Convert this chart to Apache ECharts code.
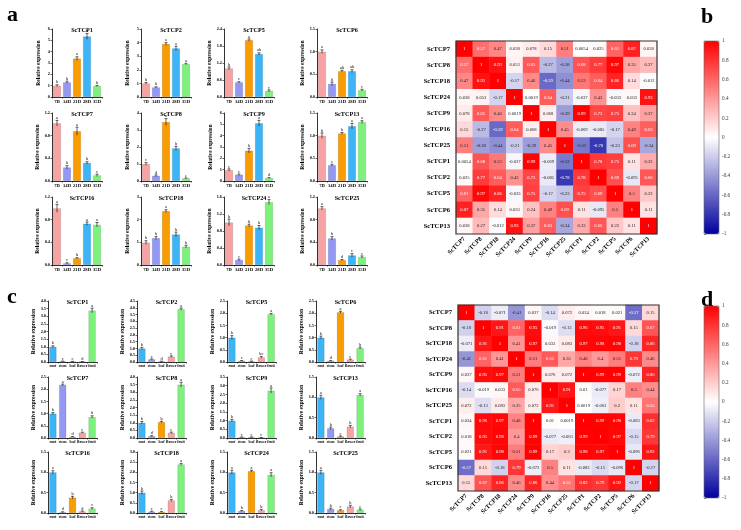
<!DOCTYPE html>
<html lang="en">
<head>
<meta charset="UTF-8">
<title>ScTCP expression</title>
<script src="https://cdn.jsdelivr.net/npm/echarts@6/dist/echarts.min.js"></script>
<style>body{margin:0;background:#fff;}</style>
</head>
<body>
<div id="main" style="width:741px;height:530px;"></div>
<script>
// ---- data ----
var genes = ['ScTCP1','ScTCP2','ScTCP5','ScTCP6','ScTCP7','ScTCP8','ScTCP9','ScTCP13','ScTCP16','ScTCP18','ScTCP24','ScTCP25'];
var timeCats = ['7D','14D','21D','28D','35D'];
var tissueCats = ['root','stem','leaf','flower','fruit'];

// panel a: expression over time
var aMax  = [6, 5, 2.4, 1.5, 1.2, 4, 6, 1.5, 1.2, 3, 1.6, 1.2];
var aStep = [1, 1, 0.6, 0.5, 0.4, 1, 1, 0.5, 0.4, 1, 0.4, 0.4];
var aValues = [
  [1.0, 1.3, 3.4, 5.35, 0.97],
  [1.0, 0.71, 3.9, 3.58, 2.43],
  [1.01, 0.52, 2.01, 1.52, 0.22],
  [1.0, 0.29, 0.57, 0.57, 0.15],
  [1.02, 0.24, 0.88, 0.32, 0.1],
  [1.0, 0.31, 3.47, 1.92, 0.16],
  [0.97, 0.56, 2.68, 5.1, 0.27],
  [1.0, 0.35, 1.05, 1.21, 1.3],
  [1.0, 0.03, 0.12, 0.73, 0.71],
  [0.99, 1.19, 2.38, 1.35, 0.81],
  [1.0, 0.12, 0.93, 0.88, 1.48],
  [1.0, 0.47, 0.087, 0.17, 0.14]
];
var aErrors = [
  [0.08, 0.1, 0.15, 0.25, 0.05],
  [0.07, 0.04, 0.1, 0.15, 0.05],
  [0.05, 0.02, 0.04, 0.04, 0.03],
  [0.04, 0.04, 0.02, 0.03, 0.02],
  [0.05, 0.03, 0.07, 0.02, 0.02],
  [0.08, 0.05, 0.2, 0.12, 0.02],
  [0.1, 0.06, 0.2, 0.25, 0.03],
  [0.06, 0.02, 0.02, 0.06, 0.03],
  [0.07, 0.01, 0.01, 0.03, 0.04],
  [0.08, 0.07, 0.06, 0.1, 0.06],
  [0.08, 0.02, 0.03, 0.05, 0.06],
  [0.03, 0.03, 0.01, 0.03, 0.02]
];
var aLetters = [
  ['b','b','a','a','b'], ['b','b','a','a','a'], ['b','c','a','ab','c'], ['a','b','ab','ab','c'],
  ['a','b','a','b','c'], ['c','d','a','b','e'], ['c','c','b','a','d'], ['b','c','b','a','a'],
  ['a','c','b','a','a'], ['b','b','a','b','b'], ['b','c','b','b','a'], ['a','b','d','c','c']
];

// panel c: expression across tissues
var cMax = [4, 4.5, 2.5, 2.5, 2.5, 4, 3.5, 1.5, 1.5, 3, 1.5, 1.5];
var cValues = [
  [1.0, 0.05, 0.03, 0.02, 3.38],
  [1.0, 0.2, 0.05, 0.4, 3.9],
  [1.0, 0.05, 0.03, 0.19, 1.96],
  [1.0, 0.05, 2.04, 0.1, 0.57],
  [1.0, 2.18, 0.05, 0.22, 0.86],
  [1.0, 0.12, 1.05, 0.35, 3.5],
  [1.0, 0.05, 0.05, 0.02, 2.72],
  [1.0, 0.24, 0.04, 0.28, 1.06],
  [1.0, 0.02, 0.38, 0.04, 0.11],
  [1.0, 0.07, 0.06, 0.62, 2.39],
  [1.0, 0.05, 1.03, 0.07, 0.94],
  [1.0, 0.1, 0.07, 0.16, 0.08]
];
var cErrors = [
  [0.06, 0.01, 0.01, 0.01, 0.15],
  [0.08, 0.03, 0.01, 0.05, 0.08],
  [0.08, 0.01, 0.01, 0.03, 0.03],
  [0.06, 0.01, 0.04, 0.02, 0.04],
  [0.04, 0.03, 0.01, 0.02, 0.05],
  [0.08, 0.03, 0.05, 0.04, 0.15],
  [0.07, 0.01, 0.01, 0.01, 0.15],
  [0.05, 0.03, 0.01, 0.03, 0.03],
  [0.04, 0.01, 0.03, 0.01, 0.02],
  [0.08, 0.02, 0.01, 0.05, 0.05],
  [0.05, 0.01, 0.02, 0.02, 0.05],
  [0.05, 0.02, 0.01, 0.03, 0.02]
];
var cLetters = [
  ['b','c','c','d','a'], ['b','c','d','c','a'], ['b','c','c','bc','a'], ['b','d','a','c','b'],
  ['b','a','d','c','b'], ['b','d','b','c','a'], ['b','c','c','c','a'], ['a','b','c','b','a'],
  ['a','d','b','d','c'], ['b','c','c','b','a'], ['a','b','a','b','a'], ['a','b','c','b','c']
];

// correlation matrices
var corrGenes = ['ScTCP7','ScTCP8','ScTCP18','ScTCP24','ScTCP9','ScTCP16','ScTCP25','ScTCP1','ScTCP2','ScTCP5','ScTCP6','ScTCP13'];
var bCorr = [
  [1, 0.57, 0.47, 0.038, 0.078, 0.15, 0.51, 0.0054, 0.025, 0.61, 0.87, 0.038],
  [0.57, 1, 0.93, 0.053, 0.65, -0.27, -0.38, 0.68, 0.77, 0.97, 0.35, 0.27],
  [0.47, 0.93, 1, -0.17, 0.46, -0.59, -0.44, 0.53, 0.64, 0.86, 0.14, -0.012],
  [0.038, 0.053, -0.17, 1, 0.0019, 0.64, -0.21, -0.037, 0.43, -0.033, 0.033, 0.93],
  [0.078, 0.65, 0.46, 0.0019, 1, 0.068, -0.39, 0.99, 0.73, 0.75, 0.24, 0.37],
  [0.15, -0.27, -0.59, 0.64, 0.068, 1, 0.45, -0.069, -0.085, -0.17, 0.49, 0.63],
  [0.51, -0.38, -0.44, -0.21, -0.39, 0.45, 1, -0.52, -0.78, -0.23, 0.69, -0.34],
  [0.0054, 0.68, 0.53, -0.037, 0.99, -0.069, -0.52, 1, 0.78, 0.75, 0.11, 0.33],
  [0.025, 0.77, 0.64, 0.43, 0.73, -0.085, -0.78, 0.78, 1, 0.69, -0.095, 0.66],
  [0.61, 0.97, 0.86, -0.033, 0.75, -0.17, -0.23, 0.75, 0.69, 1, 0.5, 0.22],
  [0.87, 0.35, 0.14, 0.033, 0.24, 0.49, 0.69, 0.11, -0.095, 0.5, 1, 0.11],
  [0.038, 0.27, -0.012, 0.93, 0.37, 0.63, -0.34, 0.33, 0.66, 0.22, 0.11, 1]
];
var dCorr = [
  [1, -0.18, -0.071, -0.41, 0.037, -0.14, 0.072, 0.034, 0.018, 0.021, -0.57, 0.15],
  [-0.18, 1, 0.91, 0.61, 0.95, -0.019, -0.13, 0.96, 0.95, 0.91, 0.15, 0.67],
  [-0.071, 0.91, 1, 0.41, 0.97, 0.033, 0.083, 0.97, 0.98, 0.98, -0.18, 0.86],
  [-0.41, 0.61, 0.41, 1, 0.51, 0.65, 0.35, 0.48, 0.4, 0.51, 0.79, 0.46],
  [0.037, 0.95, 0.97, 0.51, 1, 0.076, 0.072, 1, 0.99, 0.99, -0.072, 0.86],
  [-0.14, -0.019, 0.033, 0.65, 0.076, 1, 0.91, 0.01, -0.077, 0.17, 0.5, 0.44],
  [0.072, -0.13, 0.083, 0.35, 0.072, 0.91, 1, 0.0019, -0.063, 0.2, 0.11, 0.55],
  [0.034, 0.96, 0.97, 0.48, 1, 0.01, 0.0019, 1, 0.99, 0.98, -0.083, 0.82],
  [0.018, 0.95, 0.98, 0.4, 0.99, -0.077, -0.063, 0.99, 1, 0.97, -0.15, 0.79],
  [0.021, 0.91, 0.98, 0.51, 0.99, 0.17, 0.2, 0.98, 0.97, 1, -0.096, 0.92],
  [-0.57, 0.15, -0.18, 0.79, -0.072, 0.5, 0.11, -0.083, -0.15, -0.096, 1, -0.17],
  [0.15, 0.67, 0.86, 0.46, 0.86, 0.44, 0.55, 0.82, 0.79, 0.92, -0.17, 1]
];

// ---- styles ----
var serif = 'Liberation Serif';
var timeColors = ['#F8A3A3', '#9399F3', '#F99C00', '#3DB4F6', '#7CF27C'];
var tissueColors = ['#3DB4F6', '#9399F3', '#F99C00', '#F8A3A3', '#7CF27C'];

var grids = [], xAxes = [], yAxes = [], series = [], titles = [], graphics = [], visualMaps = [];

function errorBars(p, api) {
  var x = api.value(0), v = api.value(1), e = api.value(2);
  var t = api.coord([x, v + e]), b = api.coord([x, Math.max(0, v - e)]);
  var s = {stroke: '#000', lineWidth: 0.6};
  return {type: 'group', children: [
    {type: 'line', shape: {x1: t[0], y1: t[1], x2: b[0], y2: b[1]}, style: s},
    {type: 'line', shape: {x1: t[0] - 1.5, y1: t[1], x2: t[0] + 1.5, y2: t[1]}, style: s}
  ]};
}

function addBars(left, top, width, height, gene, cats, colors, vals, errs, letters, max, step, gap, catFont) {
  var gi = grids.length;
  var pxPer = height / max;
  grids.push({left: left, top: top, width: width, height: height});
  xAxes.push({
    gridIndex: gi, type: 'category', data: cats,
    axisLine: {lineStyle: {color: '#000', width: 0.8}},
    axisTick: {show: true, length: 1.5, lineStyle: {color: '#000', width: 0.6}},
    axisLabel: {interval: 0, fontSize: catFont, fontFamily: serif, fontWeight: 'bold', color: '#000', margin: 2}
  });
  yAxes.push({
    gridIndex: gi, type: 'value', min: 0, max: max, interval: step,
    axisLine: {show: true, lineStyle: {color: '#000', width: 0.8}},
    axisTick: {show: true, length: 1.5, lineStyle: {color: '#000', width: 0.6}},
    splitLine: {show: false},
    axisLabel: {fontSize: 4.3, fontFamily: serif, fontWeight: 'bold', color: '#000', margin: 2,
      formatter: function (v) { return step < 1 ? v.toFixed(1) : String(v); }},
    name: 'Relative expression', nameLocation: 'middle', nameGap: 10, nameRotate: 90,
    nameTextStyle: {fontSize: 5.5, fontFamily: serif, fontWeight: 'bold', color: '#000'}
  });
  series.push({
    type: 'bar', xAxisIndex: gi, yAxisIndex: gi, barCategoryGap: gap,
    data: vals.map(function (v, i) {
      return {value: v, itemStyle: {color: colors[i], borderColor: 'rgba(0,0,0,0.2)', borderWidth: 0.6},
        label: {distance: errs[i] * pxPer + 0.5}};
    }),
    label: {show: true, position: 'top', fontSize: 4.3, fontFamily: serif, color: '#000',
      formatter: function (p) { return letters[p.dataIndex]; }}
  });
  series.push({
    type: 'custom', xAxisIndex: gi, yAxisIndex: gi, renderItem: errorBars,
    encode: {x: 0, y: 1}, z: 3,
    data: vals.map(function (v, i) { return [i, v, errs[i]]; })
  });
  titles.push({text: gene, left: left + width / 2, top: top - 7, textAlign: 'center',
    textStyle: {fontSize: 6.2, fontFamily: serif, fontWeight: 'bold', color: '#000'}});
}

var aLefts = [52, 141, 224, 317], aTops = [29, 113, 197];
var cLefts = [48, 137, 227, 316], cTops = [301, 377, 452];
for (var i = 0; i < 12; i++) {
  var r = Math.floor(i / 4), c = i % 4;
  addBars(aLefts[c], aTops[r], 50, 68, genes[i], timeCats, timeColors, aValues[i], aErrors[i], aLetters[i], aMax[i], aStep[i], '20%', 4.6);
  addBars(cLefts[c], cTops[r], 49, 61, genes[i], tissueCats, tissueColors, cValues[i], cErrors[i], cLetters[i], cMax[i], 0.5, '26%', 3.9);
}

function addHeat(left, top, width, height, matrix, barLeft, barTop, barHeight) {
  var gi = grids.length;
  grids.push({left: left, top: top, width: width, height: height});
  xAxes.push({gridIndex: gi, type: 'category', data: corrGenes,
    axisLine: {show: false}, axisTick: {show: false}, splitArea: {show: false},
    axisLabel: {interval: 0, rotate: 45, fontSize: 6.3, fontFamily: serif, fontWeight: 'bold', color: '#000', margin: 4}});
  yAxes.push({gridIndex: gi, type: 'category', data: corrGenes, inverse: true,
    axisLine: {show: false}, axisTick: {show: false}, splitArea: {show: false},
    axisLabel: {interval: 0, fontSize: 6.6, fontFamily: serif, fontWeight: 'bold', color: '#000', margin: 6}});
  var data = [];
  matrix.forEach(function (row, y) {
    row.forEach(function (v, x) {
      data.push({value: [x, y, v], label: {color: Math.abs(v) >= 0.55 ? '#fff' : '#222'}});
    });
  });
  var si = series.length;
  series.push({type: 'heatmap', xAxisIndex: gi, yAxisIndex: gi, data: data,
    label: {show: true, fontSize: 4.6, fontFamily: serif,
      formatter: function (p) { return String(p.value[2]); }}});
  graphics.push({type: 'rect', shape: {x: left, y: top, width: width, height: height}, z: 100,
    style: {fill: 'none', stroke: '#333', lineWidth: 1.2}});
  visualMaps.push({type: 'continuous', min: -1, max: 1, seriesIndex: si, calculable: false,
    left: barLeft, top: barTop, itemWidth: 15, itemHeight: barHeight, padding: 0, text: ['', ''],
    showLabel: false, inRange: {color: ['#00009e', '#ffffff', '#ff0000']}});
  graphics.push({type: 'rect', shape: {x: barLeft, y: barTop, width: 15, height: barHeight}, z: 100,
    style: {fill: 'none', stroke: '#666', lineWidth: 0.6}});
  // scale beside the colour bar
  var gb = grids.length;
  grids.push({left: barLeft, top: barTop, width: 15, height: barHeight});
  xAxes.push({gridIndex: gb, type: 'value', show: false});
  yAxes.push({gridIndex: gb, type: 'value', min: -1, max: 1, interval: 0.2, position: 'right',
    axisLine: {show: false}, splitLine: {show: false},
    axisTick: {show: true, length: 2, lineStyle: {color: '#444', width: 0.6}},
    axisLabel: {fontSize: 5.2, fontFamily: serif, color: '#333', margin: 3,
      formatter: function (v) { return String(+v.toFixed(1)); }}});
}

addHeat(456, 41, 201, 193, bCorr, 704, 41, 193);
addHeat(458, 305, 201, 186, dCorr, 704, 306, 192);

['a', 'b', 'c', 'd'].forEach(function (t, k) {
  var pos = [[7, 4], [701, 6], [7, 286], [701, 289]][k];
  graphics.push({type: 'text', left: pos[0], top: pos[1],
    style: {text: t, font: 'bold 22px "Liberation Serif"', fill: '#000'}});
});

var chart = echarts.init(document.getElementById('main'));
chart.setOption({
  animation: false,
  backgroundColor: '#fff',
  title: titles,
  grid: grids,
  xAxis: xAxes,
  yAxis: yAxes,
  visualMap: visualMaps,
  graphic: graphics,
  series: series
});
</script>
</body>
</html>
